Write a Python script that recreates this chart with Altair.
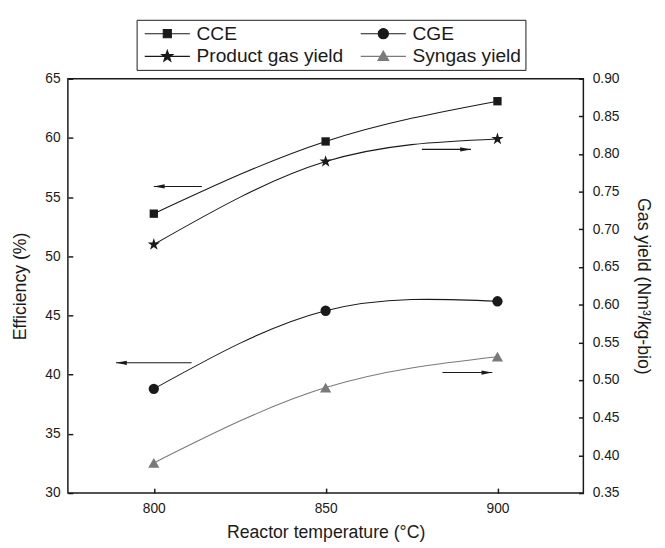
import altair as alt
import pandas as pd

# ---------------- data ----------------
temps = [800, 850, 900]
cce = [53.6, 59.7, 63.1]          # Efficiency (%), left axis
cge = [38.8, 45.4, 46.2]          # Efficiency (%), left axis
product_gas = [0.68, 0.79, 0.82]  # Gas yield, right axis
syngas = [0.39, 0.49, 0.531]      # Gas yield, right axis

legend_order = ["CCE", "Product gas yield", "CGE", "Syngas yield"]

# arrow annotations (in left-axis units)
arrow_tail = [814, 811, 878, 884]
arrow_tip = [800, 789, 892.3, 898.5]
arrow_y = [55.9, 41.0, 59.03, 40.18]
arrow_dir = ["left", "left", "right", "right"]

left_ticks = [30, 35, 40, 45, 50, 55, 60, 65]
right_ticks = [0.35, 0.40, 0.45, 0.50, 0.55, 0.60, 0.65, 0.70, 0.75, 0.80, 0.85, 0.90]
x_ticks = [800, 850, 900]

FONT = "Liberation Sans"
GRAY = "#7a7a7a"
INK = "#1a1a1a"

STAR = ("M0,-1L0.2245,-0.309L0.951,-0.309L0.3633,0.118L0.5878,0.809L0,0.382"
        "L-0.5878,0.809L-0.3633,0.118L-0.951,-0.309L-0.2245,-0.309Z")

# legend symbols: line + marker (drawn at scale 5.5 px per unit)
LEG_SQUARE = "M-4.18,0H4.18M-0.75,-0.75H0.75V0.75H-0.75Z"
LEG_CIRCLE = "M-4.18,0H4.18M0.95,0A0.95,0.95,0,1,1,-0.95,0A0.95,0.95,0,1,1,0.95,0Z"
LEG_STAR = ("M-4.18,0H4.18M0,-1.1L0.2645,-0.364L1.046,-0.34L0.428,0.139L0.647,0.89"
            "L0,0.45L-0.647,0.89L-0.428,0.139L-1.046,-0.34L-0.2645,-0.364Z")
LEG_TRI = "M-4.18,0H4.18M0,-1.0L1.0,0.75L-1.0,0.75Z"

ARROW_LEFT = "M0,0L2,-0.4L2,0.4Z"
ARROW_RIGHT = "M0,0L-2,-0.4L-2,0.4Z"

df_cce = pd.DataFrame({"t": temps, "v": cce})
df_cge = pd.DataFrame({"t": temps, "v": cge})
df_pg = pd.DataFrame({"t": temps, "v": product_gas})
df_sg = pd.DataFrame({"t": temps, "v": syngas})
df_arrows = pd.DataFrame({"tail": arrow_tail, "tip": arrow_tip, "y": arrow_y, "dir": arrow_dir})
df_leg = pd.DataFrame({"series": legend_order})

# ---------------- scales / axes ----------------
x_scale = alt.Scale(domain=[775, 925], nice=False, zero=False)
x_axis = alt.Axis(values=x_ticks, title="Reactor temperature (°C)", orient="bottom",
                  offset=-5, tickSize=5, domain=False, grid=False, labelPadding=9,
                  titlePadding=8, format="d")
left_scale = alt.Scale(domain=[30, 65], nice=False, zero=False)
left_axis = alt.Axis(values=left_ticks, title="Efficiency (%)", orient="left",
                     offset=-5, tickSize=5, domain=False, grid=False, labelPadding=8,
                     titlePadding=16)
right_scale = alt.Scale(domain=[0.35, 0.90], nice=False, zero=False)
right_axis = alt.Axis(values=right_ticks, title="Gas yield (Nm³/kg-bio)", orient="right",
                      offset=-5, tickSize=5, domain=False, grid=False, labelPadding=9,
                      titlePadding=15, format=".2f")

x_enc = alt.X("t:Q", scale=x_scale, axis=x_axis)
y_left = alt.Y("v:Q", scale=left_scale, axis=left_axis)
y_right = alt.Y("v:Q", scale=right_scale, axis=right_axis)


def series_line(df, y_enc, color, shape, size):
    return alt.Chart(df).mark_line(
        interpolate="natural", color=color, strokeWidth=1.1,
        point=alt.OverlayMarkDef(filled=True, shape=shape, size=size, color=color, opacity=1),
    ).encode(x=x_enc, y=y_enc)


cce_layer = series_line(df_cce, y_left, INK, "square", 72)
cge_layer = series_line(df_cge, y_left, INK, "circle", 110)
pg_layer = series_line(df_pg, y_right, INK, STAR, 170)
sg_layer = series_line(df_sg, y_right, GRAY, "triangle-up", 130)

arrow_y_enc = alt.Y("y:Q", scale=left_scale, axis=left_axis)
arrow_rules = alt.Chart(df_arrows).mark_rule(color=INK, strokeWidth=1.1).encode(
    x=alt.X("tail:Q", scale=x_scale, axis=x_axis),
    x2="tip:Q",
    y=arrow_y_enc,
)
heads_left = alt.Chart(df_arrows).transform_filter(alt.datum.dir == "left").mark_point(
    shape=ARROW_LEFT, filled=True, color=INK, size=121, opacity=1
).encode(x=alt.X("tip:Q", scale=x_scale, axis=x_axis), y=arrow_y_enc)
heads_right = alt.Chart(df_arrows).transform_filter(alt.datum.dir == "right").mark_point(
    shape=ARROW_RIGHT, filled=True, color=INK, size=121, opacity=1
).encode(x=alt.X("tip:Q", scale=x_scale, axis=x_axis), y=arrow_y_enc)

legend_def = alt.Legend(
    title=None, orient="none", legendX=70, legendY=-60, columns=2,
    columnPadding=13, rowPadding=2.5, padding=4, strokeColor=INK,
    symbolSize=121, symbolOffset=17.5, symbolStrokeWidth=1.1, symbolOpacity=1,
    labelFont=FONT, labelFontSize=19.5, labelColor=INK, labelOffset=20,
)
legend_layer = alt.Chart(df_leg).mark_point(filled=True, opacity=0).encode(
    x=alt.value(0),
    y=alt.value(0),
    shape=alt.Shape("series:N", sort=legend_order,
                    scale=alt.Scale(domain=legend_order,
                                    range=[LEG_SQUARE, LEG_STAR, LEG_CIRCLE, LEG_TRI]),
                    legend=legend_def),
    fill=alt.Fill("series:N", sort=legend_order,
                  scale=alt.Scale(domain=legend_order,
                                  range=[INK, INK, INK, GRAY]),
                  legend=legend_def),
    stroke=alt.Stroke("series:N", sort=legend_order,
                      scale=alt.Scale(domain=legend_order,
                                      range=[INK, INK, INK, GRAY]),
                      legend=legend_def),
)

left_group = alt.layer(cce_layer, cge_layer, arrow_rules, heads_left, heads_right, legend_layer)
right_group = alt.layer(pg_layer, sg_layer)

chart = alt.layer(left_group, right_group).resolve_scale(
    y="independent"
).properties(
    width=525, height=422,
    background="white",
    padding={"left": 3, "top": 6, "right": 5, "bottom": 5},
).configure_view(
    stroke=INK, strokeWidth=1.5
).configure_axis(
    labelFont=FONT, labelFontSize=14, labelColor=INK,
    titleFont=FONT, titleFontSize=18, titleFontWeight="normal", titleColor=INK,
    tickColor=INK, tickWidth=1.5,
)

chart.save("out.html", embed_options={"renderer": "svg", "actions": False})
